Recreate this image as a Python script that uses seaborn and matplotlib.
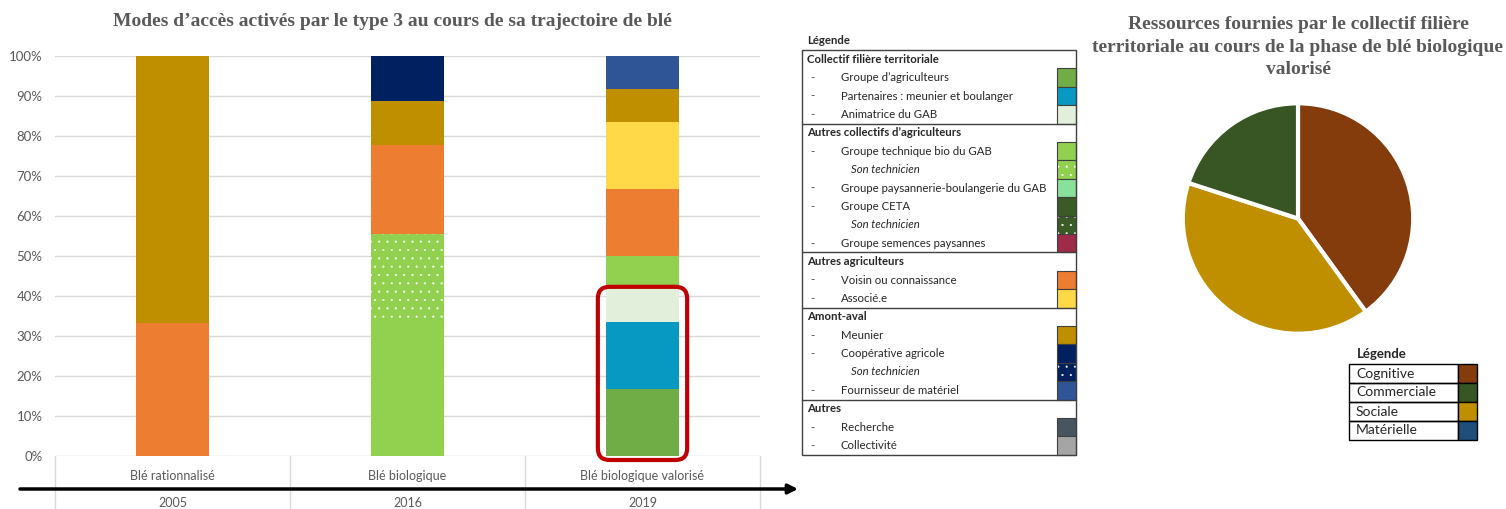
"""
Modes d'accès activés (type 3) + ressources du collectif filière territoriale.
Saves out.png
"""
import matplotlib
matplotlib.use("Agg")
from matplotlib import pyplot
from matplotlib import transforms
from matplotlib.patches import Rectangle, FancyBboxPatch
import numpy as np
import seaborn

W, H = 1506, 509

years = ["2005", "2016", "2019"]
phases = ["Blé rationnalisé", "Blé biologique", "Blé biologique valorisé"]

# % of access modes per phase, stacked bottom -> top
groupe_agriculteurs = [0, 0, 16.7]
partenaires = [0, 0, 16.7]
animatrice_gab = [0, 0, 8.3]
groupe_technique_bio = [0, 33.3, 8.3]
technicien_gab = [0, 22.2, 0]
voisin = [33.3, 22.2, 16.7]
associe = [0, 0, 16.7]
meunier = [66.7, 11.1, 8.3]
cooperative = [0, 11.1, 0]
fournisseur = [0, 0, 8.3]

# pie: resources provided by the collective
pie_labels = ["Cognitive", "Commerciale", "Sociale", "Matérielle"]
pie_values = [2, 1, 2, 0]
pie_colors = ["#843C0C", "#375623", "#BF8F00", "#1F4E79"]
pie_order = [0, 2, 1]  # clockwise from 12 o'clock

# legend table: (label, color, dotted, sub-item)
legend_groups = [
    ("Collectif filière territoriale", [
        ("Groupe d’agriculteurs", "#70AD47", False, False),
        ("Partenaires : meunier et boulanger", "#0899C2", False, False),
        ("Animatrice du GAB", "#E2EFDA", False, False),
    ]),
    ("Autres collectifs d’agriculteurs", [
        ("Groupe technique bio du GAB", "#92D050", False, False),
        ("Son technicien", "#92D050", True, True),
        ("Groupe paysannerie-boulangerie du GAB", "#88E09A", False, False),
        ("Groupe CETA", "#3A5A26", False, False),
        ("Son technicien", "#3A5A26", True, True),
        ("Groupe semences paysannes", "#9E2B47", False, False),
    ]),
    ("Autres agriculteurs", [
        ("Voisin ou connaissance", "#ED7D31", False, False),
        ("Associé.e", "#FFD947", False, False),
    ]),
    ("Amont-aval", [
        ("Meunier", "#BF8F00", False, False),
        ("Coopérative agricole", "#002060", False, False),
        ("Son technicien", "#002060", True, True),
        ("Fournisseur de matériel", "#2F5597", False, False),
    ]),
    ("Autres", [
        ("Recherche", "#485560", False, False),
        ("Collectivité", "#A5A5A5", False, False),
    ]),
]

layers = [
    (groupe_agriculteurs, "#70AD47", False),
    (partenaires, "#0899C2", False),
    (animatrice_gab, "#E2EFDA", False),
    (groupe_technique_bio, "#92D050", False),
    (technicien_gab, "#92D050", True),
    (voisin, "#ED7D31", False),
    (associe, "#FFD947", False),
    (meunier, "#BF8F00", False),
    (cooperative, "#002060", False),
    (fournisseur, "#2F5597", False),
]

GREY = "#595959"
GRID = "#D9D9D9"


def main():
    seaborn.set_theme(style="white")
    pyplot.rcParams["font.family"] = ["Lato", "DejaVu Sans"]
    pyplot.rcParams["hatch.linewidth"] = 0.3

    fig = pyplot.figure(figsize=(W / 100, H / 100), dpi=100)

    # --- stacked bars
    ax = fig.add_axes([55 / W, (H - 456) / H, 705 / W, 400 / H])
    bottom = np.zeros(len(phases))
    for values, color, dotted in layers:
        seaborn.barplot(
            x=phases, y=values, color=color, saturation=1, width=0.31,
            bottom=bottom.copy(), errorbar=None, ax=ax,
            hatch=".." if dotted else None,
            edgecolor="white" if dotted else color, linewidth=0,
        )
        bottom += np.array(values)

    ax.set_xlim(-0.5, len(phases) - 0.5)
    ax.set_ylim(0, 100)
    ax.set_yticks(range(0, 101, 10))
    ax.set_yticklabels([f"{v}%" for v in range(0, 101, 10)])
    ax.tick_params(axis="y", length=0, pad=9, labelsize=9.5, labelcolor=GREY)
    ax.set_xticks([])
    ax.set_xlabel("")
    ax.set_ylabel("")
    ax.grid(axis="y", color=GRID, lw=1)
    ax.set_axisbelow(True)
    seaborn.despine(ax=ax, left=True, bottom=True)

    trans = transforms.blended_transform_factory(ax.transData, ax.transAxes)
    for i, (phase, year) in enumerate(zip(phases, years)):
        ax.text(i, -20 / 400, phase, transform=trans, ha="center", va="center",
                fontsize=9, color=GREY)
        ax.text(i, -47 / 400, year, transform=trans, ha="center", va="center",
                fontsize=9, color=GREY)
    for xb in np.arange(len(phases) + 1) - 0.5:
        ax.plot([xb, xb], [0, -53 / 400], transform=trans, color=GRID, lw=1,
                clip_on=False)

    # highlight of the collectif filière territoriale in 2019
    hl_top = groupe_agriculteurs[2] + partenaires[2] + animatrice_gab[2]
    hl = FancyBboxPatch((2 - 0.19, -1), 0.38, hl_top + 1.6,
                        boxstyle="round,pad=0,rounding_size=0.05",
                        mutation_aspect=235 / 4, fill=False,
                        edgecolor="#C00000", lw=3, clip_on=False, zorder=5)
    ax.add_patch(hl)

    fig.text(392 / W, 1 - 22 / H,
             "Modes d’accès activés par le type 3 au cours de sa trajectoire de blé",
             ha="center", va="center", family="Liberation Serif", weight="bold",
             fontsize=14, color=GREY)

    # --- pie
    pax = fig.add_axes([1180.5 / W, (H - 336) / H, 235 / W, 235 / H])
    pax.pie([pie_values[i] for i in pie_order],
            colors=[pie_colors[i] for i in pie_order],
            startangle=90, counterclock=False,
            wedgeprops=dict(edgecolor="white", linewidth=3))
    pax.set_xlim(-1.02, 1.02)
    pax.set_ylim(-1.02, 1.02)
    pax.set_aspect("equal")
    fig.text(1298 / W, 1 - 47 / H,
             "Ressources fournies par le collectif filière\n"
             "territoriale au cours de la phase de blé biologique\nvalorisé",
             ha="center", va="center", family="Liberation Serif", weight="bold",
             fontsize=14, color=GREY, linespacing=1.42)

    # --- overlay in pixel coords: legends + time arrow
    ov = fig.add_axes([0, 0, 1, 1])
    ov.set_xlim(0, W)
    ov.set_ylim(H, 0)
    ov.axis("off")

    ov.annotate("", xy=(798, 489), xytext=(20, 489),
                arrowprops=dict(arrowstyle="-|>", color="black", lw=2.5,
                                mutation_scale=14, shrinkA=0, shrinkB=0))

    row_h = 18.4
    top = 50
    left, right = 802, 1076
    sw_l, sw_w = 1057, 19
    fs = 8.2
    ov.text(807, 40, "Légende", fontsize=fs, weight="bold", va="center")
    y = top + row_h / 2
    for gi, (group, items) in enumerate(legend_groups):
        if gi > 0:
            ov.plot([left, right], [y - row_h / 2] * 2, color="#404040", lw=1)
        ov.text(807, y, group, fontsize=fs, weight="bold", va="center")
        y += row_h
        for label, color, dotted, sub in items:
            if sub:
                ov.text(851, y, label, fontsize=fs, style="italic", va="center")
            else:
                ov.text(810, y, "-", fontsize=fs, va="center", color="#404040")
                ov.text(841, y, label, fontsize=fs, va="center")
            ov.add_patch(Rectangle((sw_l, y - row_h / 2), sw_w, row_h,
                                   facecolor=color, hatch=".." if dotted else None,
                                   edgecolor="white" if dotted else color, lw=0))
            ov.add_patch(Rectangle((sw_l, y - row_h / 2), sw_w, row_h,
                                   fill=False, edgecolor="#404040", lw=0.8))
            y += row_h
    ov.add_patch(Rectangle((left, top), right - left, y - row_h / 2 - top,
                           fill=False, edgecolor="#404040", lw=1))

    # pie legend table
    ov.text(1357, 354, "Légende", fontsize=9.5, weight="bold", va="center")
    prow = 19
    for i, (label, color) in enumerate(zip(pie_labels, pie_colors)):
        y0 = 364 + i * prow
        ov.add_patch(Rectangle((1349, y0), 109, prow, fill=False,
                               edgecolor="black", lw=1))
        ov.add_patch(Rectangle((1458, y0), 19, prow, facecolor=color,
                               edgecolor="black", lw=1))
        ov.text(1356, y0 + prow / 2, label, fontsize=10, va="center")

    fig.savefig("out.png", dpi=100)


if __name__ == "__main__":
    main()
